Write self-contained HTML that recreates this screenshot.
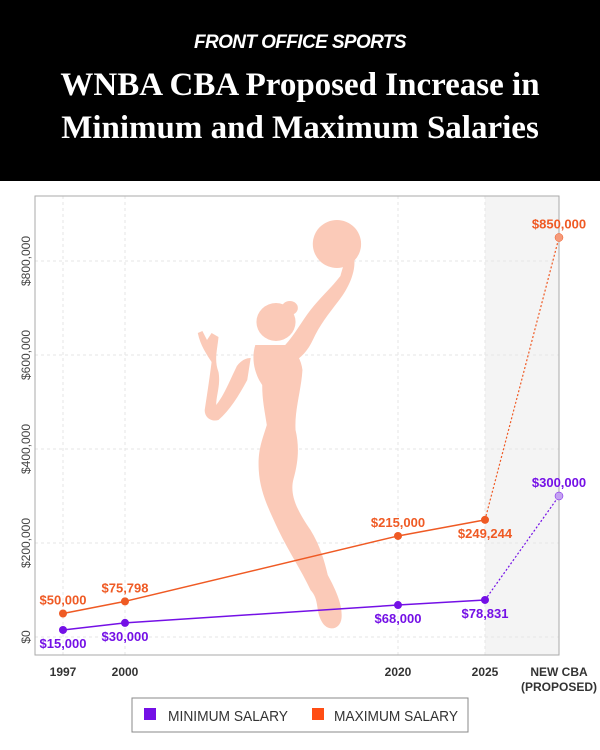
<!DOCTYPE html>
<html><head><meta charset="utf-8"><style>
body{margin:0;width:600px;height:750px;background:#fff;font-family:"Liberation Sans",sans-serif;overflow:hidden;position:relative}
#hdr{position:absolute;left:0;top:0;width:600px;height:181px;background:#000;color:#fff;text-align:center}
#brand{position:absolute;top:32px;width:100%;font:italic bold 19px "Liberation Sans",sans-serif;letter-spacing:-0.6px}
#title{position:absolute;top:64px;width:100%;font:bold 33px/43px "Liberation Serif",serif}
svg{position:absolute;left:0;top:0}
</style></head><body>
<div id="hdr">
<div id="brand">FRONT OFFICE SPORTS</div>
<div id="title">WNBA CBA Proposed Increase in<br>Minimum and Maximum Salaries</div>
</div>
<svg id="chart" width="600" height="750"></svg>
<script>
const categories=["1997","2000","2020","2025","NEW CBA"];
const minSalary=[15000,30000,68000,78831,300000];
const maxSalary=[50000,75798,215000,249244,850000];
const minLabels=["$15,000","$30,000","$68,000","$78,831","$300,000"];
const maxLabels=["$50,000","$75,798","$215,000","$249,244","$850,000"];
const yTicks=[0,200000,400000,600000,800000];
const yTickLabels=["$0","$200,000","$400,000","$600,000","$800,000"];

const NS="http://www.w3.org/2000/svg";
const svg=document.getElementById('chart');
const L=35,R=559,T=196,B=655;
const xSlots=[63,125,398,485,559];
function x(i){return xSlots[i];}
function y(v){return 637-v*0.00047;}
function el(t,a,p){const e=document.createElementNS(NS,t);for(const k in a)e.setAttribute(k,a[k]);(p||svg).appendChild(e);return e;}
const NF='Liberation Sans Narrow, Liberation Sans, sans-serif';

const shade=el('rect',{x:x(3),y:T,width:R-x(3),height:B-T,fill:'#f4f4f4'});



yTicks.forEach((t,i)=>{
 const g=el('line',{x1:L,x2:R,y1:y(t),y2:y(t),stroke:'#e6e6e6','stroke-dasharray':'3,3'});
 
 
 const tx=el('text',{x:0,y:0,transform:`translate(30,${y(t)}) rotate(-90)`,'text-anchor':'middle','font-size':'12',fill:'#444','font-family':NF});
 tx.textContent=yTickLabels[i];
 
 
});
categories.forEach((c,i)=>{
 if(i<4){const g=el('line',{x1:x(i),x2:x(i),y1:T,y2:B,stroke:'#e6e6e6','stroke-dasharray':'3,3'});
 
 }
 const tx=el('text',{x:x(i),y:676,'text-anchor':'middle','font-size':'12',fill:'#333','font-weight':'bold','font-family':NF});
 tx.textContent=c;
 
 
 if(i==4){const t2=el('text',{x:x(i),y:691,'text-anchor':'middle','font-size':'12',fill:'#333','font-weight':'bold','font-family':NF});t2.textContent='(PROPOSED)';
 
 }
});

// silhouette
const sil=el('g',{fill:'#fbcab8',transform:'scale(1.15,1)'});


el('ellipse',{cx:293,cy:244,rx:21,ry:24},sil);
el('ellipse',{cx:240,cy:322,rx:17,ry:19},sil);
el('circle',{cx:252,cy:308,r:7},sil);
el('path',{d:'M306,250 C312,265 305,285 295,300 C285,315 278,325 272,340 C268,350 262,358 255,362 L248,345 C256,335 262,322 270,310 C278,298 288,288 296,276 C298,268 300,258 306,250 Z'},sil);
el('path',{d:'M172,333 L176,331 L180,340 L184,333 L190,337 C189,350 186,360 190,372 C192,385 188,395 188,405 C195,395 200,380 206,366 C210,360 214,358 218,358 L215,380 C208,395 200,410 190,420 C184,422 178,418 178,410 C180,395 182,380 184,362 C180,355 174,345 172,333 Z'},sil);
el('path',{d:'M222,345 L250,345 C258,352 262,360 263,370 C262,390 256,410 257,430 C260,445 260,460 255,480 C252,495 258,510 270,530 C278,545 282,560 285,575 C292,590 298,605 297,618 C296,630 285,632 280,622 C274,610 278,600 270,590 C262,570 250,550 240,525 C232,505 226,490 225,470 C224,450 228,440 232,425 C230,410 228,400 228,385 C222,375 218,360 222,345 Z'},sil);

el('rect',{x:L,y:T,width:R-L,height:B-T,fill:'none',stroke:'#aaa','stroke-width':'1'});

function series(vals,labels,col,light,name,above){
 let d='';for(let i=0;i<4;i++)d+=(i?'L':'M')+x(i)+','+y(vals[i]);
 const p=el('path',{d:d,fill:'none',stroke:col,'stroke-width':'1.5'});
 
 
 const p2=el('line',{x1:x(3),y1:y(vals[3]),x2:x(4),y2:y(vals[4]),stroke:col,'stroke-width':'1.2','stroke-dasharray':'2,2'});
 
 
 vals.forEach((v,i)=>{
  const c=el('circle',{cx:x(i),cy:y(v),r:4,fill:i==4?light:col,stroke:i==4?col:'none','stroke-width':'0.5'});
  
  
  const up=above[i];
  const t=el('text',{x:x(i),y:y(v)+(up?-9:18),'text-anchor':'middle','font-size':'13','font-weight':'bold',fill:col,'font-family':NF});
  t.textContent=labels[i];
  
  
 });
}
series(maxSalary,maxLabels,'#ef5a24','#f59a7a','max-salary',[1,1,1,0,1]);
series(minSalary,minLabels,'#7410e6','#c4a2f2','min-salary',[0,0,0,0,1]);

const lg=el('g',{});


el('rect',{x:132,y:698,width:336,height:34,fill:'#fff',stroke:'#888'},lg);
const e1=el('rect',{x:144,y:708,width:12,height:12,fill:'#7410e6'},lg);


const t1=el('text',{x:168,y:721,'font-size':'15',fill:'#333','font-family':NF,textLength:120,lengthAdjust:'spacingAndGlyphs'},lg);t1.textContent='MINIMUM SALARY';


const e2=el('rect',{x:312,y:708,width:12,height:12,fill:'#ff4d14'},lg);


const t2=el('text',{x:334,y:721,'font-size':'15',fill:'#333','font-family':NF,textLength:124,lengthAdjust:'spacingAndGlyphs'},lg);t2.textContent='MAXIMUM SALARY';


</script>
</body></html>
